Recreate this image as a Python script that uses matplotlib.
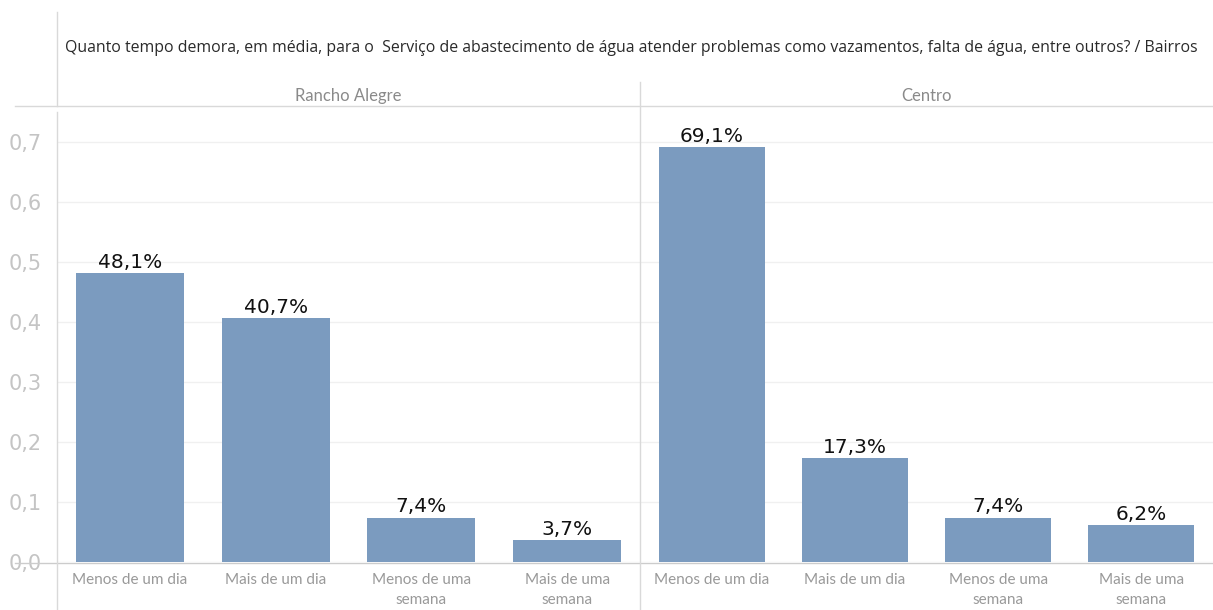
import matplotlib
matplotlib.use("Agg")
from matplotlib import pyplot as plt
from matplotlib.lines import Line2D
from matplotlib.ticker import FuncFormatter

# data
bairros = ["Rancho Alegre", "Centro"]
categorias = ["Menos de um dia", "Mais de um dia", "Menos de uma\nsemana", "Mais de uma\nsemana"]
valores = {
    "Rancho Alegre": [0.481, 0.407, 0.074, 0.037],
    "Centro": [0.691, 0.173, 0.074, 0.062],
}
y_ticks = [0.0, 0.1, 0.2, 0.3, 0.4, 0.5, 0.6, 0.7]
titulo = ("Quanto tempo demora, em média, para o  Serviço de abastecimento de água "
          "atender problemas como vazamentos, falta de água, entre outros? / Bairros")

W, H = 1213, 610
BAR = "#7b9bbf"
LINE = "#d9d9d9"

fig = plt.figure(figsize=(W / 100, H / 100), dpi=100)
fig.patch.set_facecolor("white")


def px_axes(x0, y0, x1, y1):
    return fig.add_axes([x0 / W, 1 - y1 / H, (x1 - x0) / W, (y1 - y0) / H])


def fline(xs, ys, color=LINE, lw=1.0):
    fig.add_artist(Line2D([x / W for x in xs], [1 - y / H for y in ys],
                          color=color, lw=lw, transform=fig.transFigure))


panels = [(57, 640), (640, 1213)]
y_top, y_bot = 112, 562

for i, (bairro, (x0, x1)) in enumerate(zip(bairros, panels)):
    ax = px_axes(x0, y_top, x1, y_bot)
    vals = valores[bairro]
    pos = range(len(categorias))
    ax.bar(pos, vals, width=0.74, color=BAR, zorder=3)
    for p, v in zip(pos, vals):
        ax.text(p, v + 0.002, f"{v * 100:.1f}%".replace(".", ","),
                ha="center", va="bottom", fontsize=14.5,
                family="DejaVu Sans", color="#111111", zorder=4)
    ax.set_xlim(-0.5, len(categorias) - 0.5)
    ax.set_ylim(0, 0.75)
    ax.set_yticks(y_ticks)
    ax.grid(axis="y", color="#f0f0f0", lw=1, zorder=0)
    ax.set_xticks(list(pos))
    ax.set_xticklabels(categorias, fontsize=11, color="#999999",
                       family="Lato", linespacing=1.5, va="top")
    ax.tick_params(axis="x", length=0, pad=8)
    for s in ax.spines.values():
        s.set_visible(False)
    if i == 0:
        ax.yaxis.set_major_formatter(FuncFormatter(lambda v, _: f"{v:.1f}".replace(".", ",")))
        ax.tick_params(axis="y", length=0, pad=11, labelsize=15, labelcolor="#c4c4c4")
        for lbl in ax.get_yticklabels():
            lbl.set_family("DejaVu Sans")
    else:
        ax.tick_params(axis="y", length=0, labelleft=False)
    fig.text((x0 + x1) / 2 / W, 1 - 96 / H, bairro, ha="center", va="center",
             fontsize=12, color="#8a8a8a", family="Lato")

# title
fig.text(65 / W, 1 - 48 / H, titulo, ha="left", va="center",
         fontsize=11.4, color="#2a2a2a", family="Open Sans")

# frame lines
fline([15, W], [106, 106])
fline([15, W], [563, 563], color="#cccccc")
fline([57, 57], [12, 106])
fline([57, 57], [112, 610])
fline([640, 640], [82, 610])

fig.savefig("out.png", dpi=100)
